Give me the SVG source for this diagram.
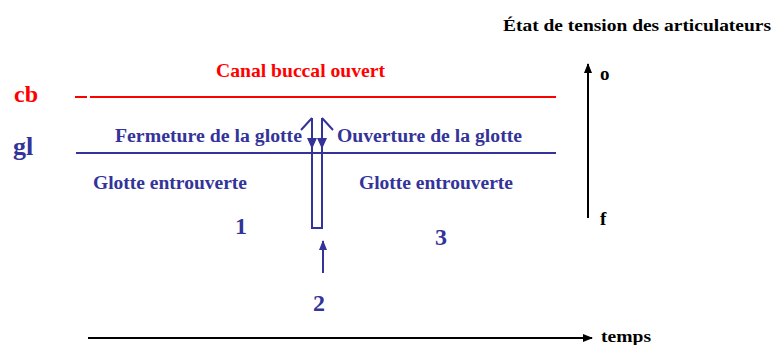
<svg xmlns="http://www.w3.org/2000/svg" width="774" height="345" viewBox="0 0 774 345">
<style>
text{font-family:'Liberation Serif','DejaVu Serif',serif;font-weight:bold}
.b{fill:#333399}
.r{fill:#ff0000}
.k{fill:#000}
.lb{stroke:#333399;stroke-width:2;fill:none}
.lk{stroke:#000;stroke-width:2;fill:none}
</style>
<defs>
<marker id="ak" markerWidth="10" markerHeight="8" refX="9" refY="4" orient="auto" markerUnits="userSpaceOnUse"><path d="M0,0 L10,4 L0,8 Z" fill="#000"/></marker>
<marker id="ab" markerWidth="10" markerHeight="8" refX="9" refY="4" orient="auto" markerUnits="userSpaceOnUse"><path d="M0,0 L10,4 L0,8 Z" fill="#333399"/></marker>
</defs>
<g id="title"><text class="k" x="503" y="31" font-size="16" textLength="268" lengthAdjust="spacingAndGlyphs">État de tension des articulateurs</text></g>
<g id="cb">
<text class="r" x="14" y="102" font-size="24">cb</text>
<text class="r" x="216" y="77" font-size="19" textLength="169" lengthAdjust="spacingAndGlyphs">Canal buccal ouvert</text>
</g>
<g id="gl">
<text class="b" x="13" y="155" font-size="26">gl</text>
<text class="b" x="115" y="142" font-size="18" textLength="187" lengthAdjust="spacingAndGlyphs">Fermeture de la glotte</text>
<text class="b" x="337" y="142" font-size="18" textLength="185" lengthAdjust="spacingAndGlyphs">Ouverture de la glotte</text>
<text class="b" x="93" y="189" font-size="18" textLength="154" lengthAdjust="spacingAndGlyphs">Glotte entrouverte</text>
<text class="b" x="359" y="189" font-size="18" textLength="154" lengthAdjust="spacingAndGlyphs">Glotte entrouverte</text>
</g>
<g id="numbers">
<text class="b" x="235" y="234" font-size="24">1</text>
<text class="b" x="313" y="311" font-size="24">2</text>
<text class="b" x="435" y="245" font-size="24">3</text>
</g>
<g id="axes">
<text class="k" x="600" y="80" font-size="19">o</text>
<text class="k" x="600" y="225" font-size="19">f</text>
<text class="k" x="601" y="342" font-size="16" textLength="50" lengthAdjust="spacingAndGlyphs">temps</text>
</g>
<g id="connectors">
<line x1="75" y1="97" x2="87" y2="97" stroke="#ff0000" stroke-width="2"/>
<line x1="90" y1="97" x2="556" y2="97" stroke="#ff0000" stroke-width="2"/>
<line x1="76" y1="153" x2="556" y2="153" stroke="#333399" stroke-width="2"/>
<line x1="588" y1="218" x2="588" y2="64" class="lk" marker-end="url(#ak)"/>
<line x1="88" y1="338" x2="592" y2="338" class="lk" marker-end="url(#ak)"/>
<path d="M312,118 V228 H322 V118" class="lb"/>
<path d="M301,130 L312,118 M322,118 L333,130" class="lb" stroke-width="1.5"/>
<path d="M307,138 L317,138 L312,149 Z M317,138 L327,138 L322,149 Z" fill="#333399"/>
<line x1="323" y1="273" x2="323" y2="241" class="lb" marker-end="url(#ab)"/>
</g>
</svg>
